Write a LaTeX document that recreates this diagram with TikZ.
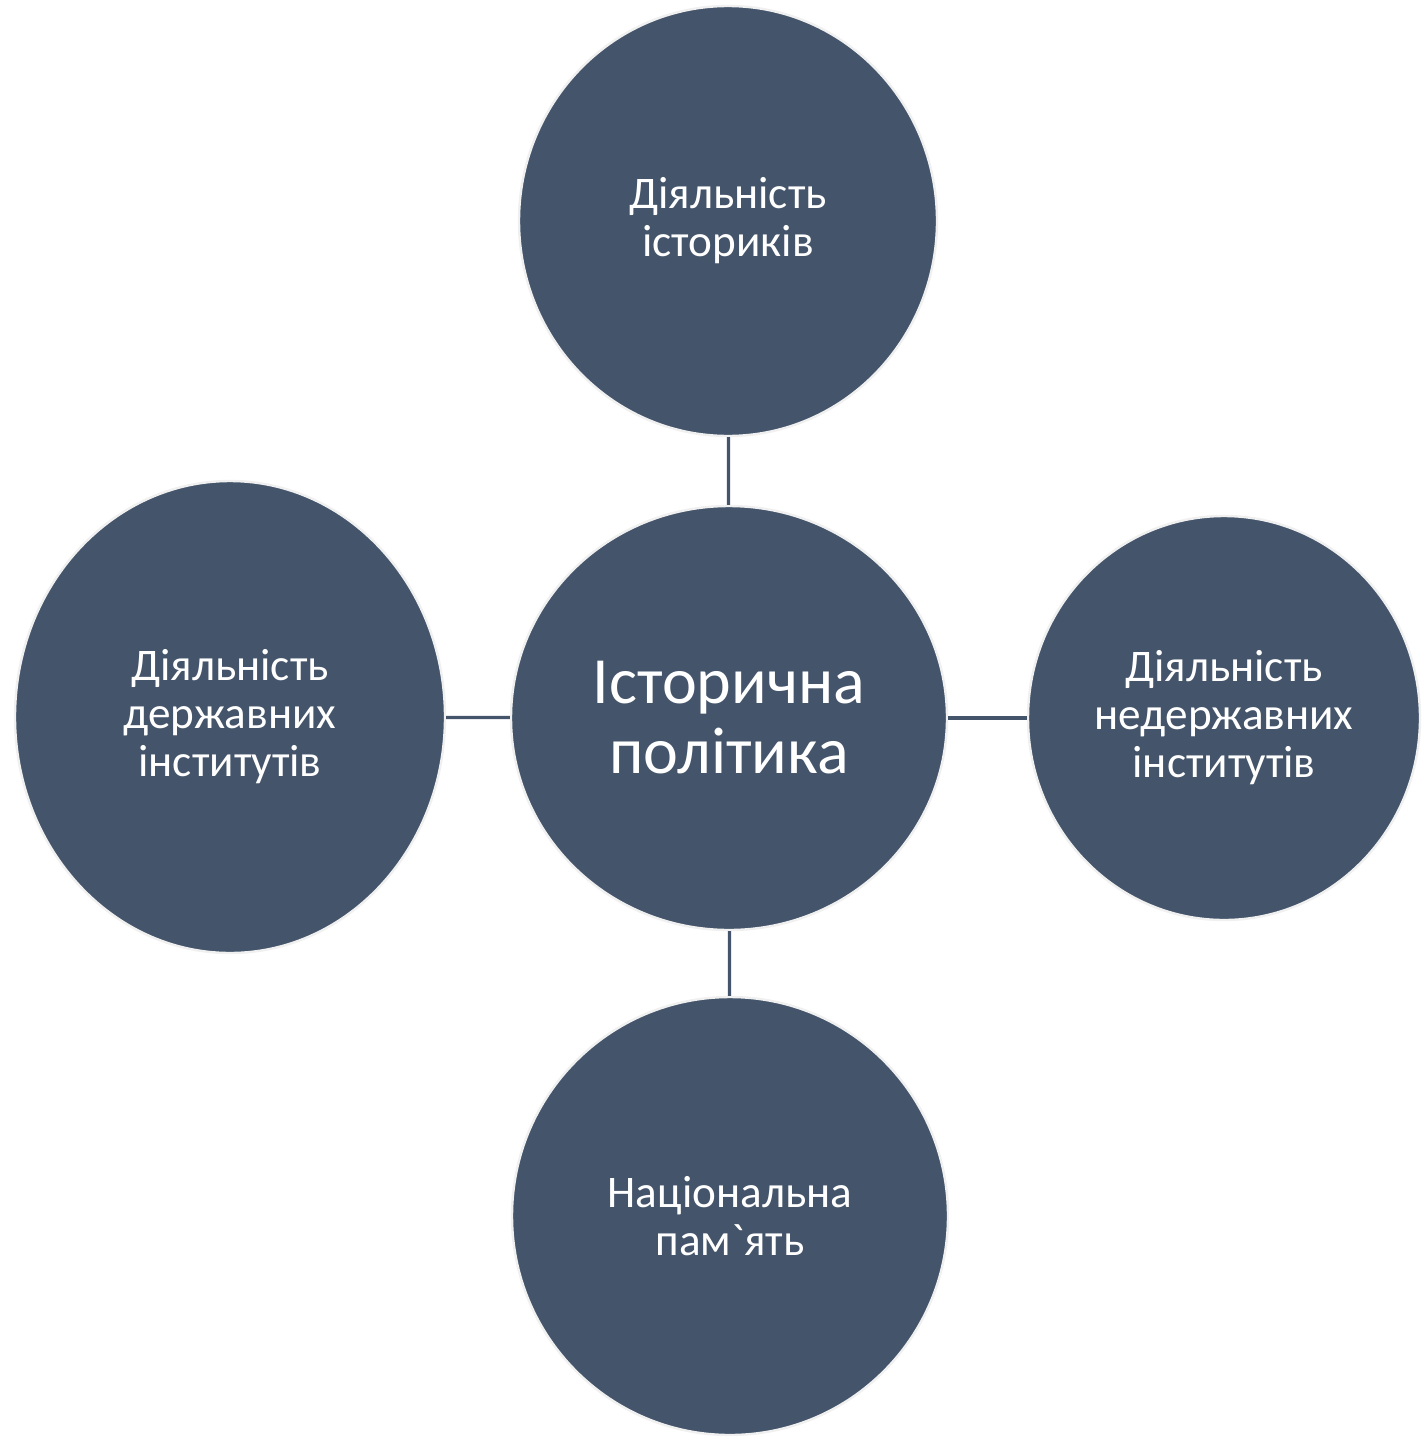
\documentclass[tikz,border=0pt]{standalone}
\usepackage{fontspec}
\newfontfamily\labelfont{Carlito}
\usetikzlibrary{shapes.geometric}
\definecolor{slate}{HTML}{44546A}

\tikzset{
  bubble/.style={ellipse, fill=slate, draw=gray!12, line width=1.2pt, text=white,
    align=center, inner sep=0pt, font=\labelfont\fontsize{22.6}{24}\selectfont},
  hub/.style={bubble, font=\labelfont\fontsize{33}{35}\selectfont},
  link/.style={draw=slate, line width=1.6pt}
}

\begin{document}
\begin{tikzpicture}[x=0.5pt,y=-0.5pt]
			\fill[white] (0,0) rectangle (1422,1440);
			\useasboundingbox (0,0) rectangle (1422,1440);
			\node[hub, minimum width=218pt, minimum height=212pt] (policy) at (729,718) {Історична\\політика};
			\node[bubble, minimum width=209pt, minimum height=215pt] (historians) at (728,221) {Діяльність\\істориків};
			\node[bubble, minimum width=215pt, minimum height=236pt] (state) at (230,717) {Діяльність\\державних\\інститутів};
			\node[bubble, minimum width=196pt, minimum height=202pt] (nonstate) at (1224,718) {Діяльність\\недержавних\\інститутів};
			\node[bubble, minimum width=218pt, minimum height=219pt] (memory) at (730,1216) {Національна\\пам`ять};
			\draw[link] (historians) -- (policy);
			\draw[link] (state) -- (policy);
			\draw[link] (policy) -- (nonstate);
			\draw[link] (policy) -- (memory);
		\end{tikzpicture}
\end{document}
